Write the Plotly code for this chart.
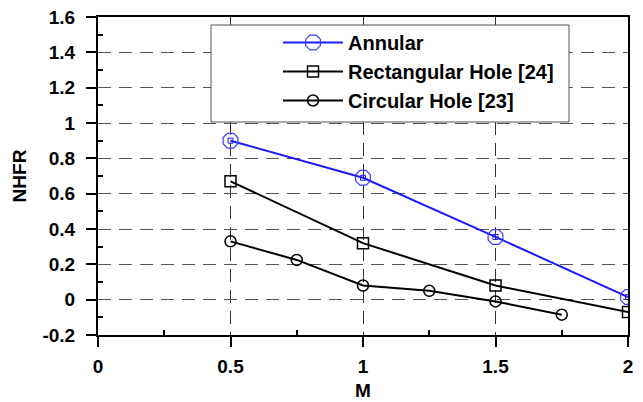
import plotly.graph_objects as go

# Data
m_annular = [0.5, 1.0, 1.5, 2.0]
nhfr_annular = [0.90, 0.69, 0.355, 0.015]
m_rect = [0.5, 1.0, 1.5, 2.0]
nhfr_rect = [0.67, 0.32, 0.08, -0.07]
m_circ = [0.5, 0.75, 1.0, 1.25, 1.5, 1.75]
nhfr_circ = [0.33, 0.225, 0.08, 0.05, -0.01, -0.085]

x_tickvals = [0, 0.5, 1, 1.5, 2]
x_ticktext = ["0", "0.5", "1", "1.5", "2"]
x_minorvals = [0.25, 0.75, 1.25, 1.75]
y_tickvals = [-0.2, 0, 0.2, 0.4, 0.6, 0.8, 1.0, 1.2, 1.4, 1.6]
y_ticktext = ["-0.2", "0", "0.2", "0.4", "0.6", "0.8", "1", "1.2", "1.4", "1.6"]
y_minorvals = [-0.1, 0.1, 0.3, 0.5, 0.7, 0.9, 1.1, 1.3, 1.5]

FONT = "Liberation Sans, Arial, sans-serif"
BLUE = "#1a1aff"
TF = dict(family=FONT, size=19, color="black", weight="bold")
LF = dict(family=FONT, size=20, color="black", weight="bold")

fig = go.Figure()
fig.add_trace(go.Scatter(
    x=m_annular, y=nhfr_annular, mode="lines+markers", name="Annular",
    line=dict(color=BLUE, width=2),
    marker=dict(symbol="octagon-open", size=16, color="#3a3aff", line=dict(width=1.2, color="#3a3aff")),
))
fig.add_trace(go.Scatter(
    x=m_annular, y=nhfr_annular, mode="markers", showlegend=False, hoverinfo="skip",
    marker=dict(symbol="square-open", size=5, color=BLUE, line=dict(width=1, color=BLUE)),
))
fig.add_trace(go.Scatter(
    x=m_rect, y=nhfr_rect, mode="lines+markers", name="Rectangular Hole [24]",
    line=dict(color="black", width=2),
    marker=dict(symbol="square-open", size=11, color="black", line=dict(width=1.5, color="black")),
))
fig.add_trace(go.Scatter(
    x=m_circ, y=nhfr_circ, mode="lines+markers", name="Circular Hole [23]",
    line=dict(color="black", width=2),
    marker=dict(symbol="circle-open", size=11, color="black", line=dict(width=1.5, color="black")),
))

# legend box
fig.add_shape(type="rect", xref="paper", yref="paper",
              x0=(211 - 98) / 530, x1=(569 - 98) / 530,
              y0=(335 - 122) / 318, y1=(335 - 25) / 318,
              line=dict(color="#555", width=1), fillcolor="white", layer="above")

grid_dash = "13px,8px"

fig.update_layout(
    width=643, height=402,
    margin=dict(l=98, r=15, t=17, b=67, autoexpand=False),
    paper_bgcolor="white", plot_bgcolor="white",
    font=dict(family=FONT, size=16, color="black"),
    showlegend=True,
    legend=dict(x=(278 - 98) / 530, y=(335 - 23) / 318, xanchor="left", yanchor="top",
                bgcolor="rgba(0,0,0,0)", borderwidth=0,
                font=LF, tracegroupgap=0, itemwidth=60),
    xaxis=dict(
        range=[0, 2], tickmode="array", tickvals=x_tickvals, ticktext=x_ticktext,
        tickfont=TF, automargin=False,
        ticks="outside", ticklen=10, tickwidth=1.5, tickcolor="black",
        ticklabelstandoff=3,
        minor=dict(tickmode="array", tickvals=x_minorvals, ticks="inside", ticklen=5,
                   tickwidth=1.5, tickcolor="black", showgrid=False),
        showline=True, linecolor="black", linewidth=2, mirror=True,
        showgrid=True, gridcolor="#333", gridwidth=1.2, griddash=grid_dash,
        zeroline=False,
        title=dict(text="M", font=TF, standoff=8),
    ),
    yaxis=dict(
        range=[-0.2, 1.6], tickmode="array", tickvals=y_tickvals, ticktext=y_ticktext,
        tickfont=TF, automargin=False,
        ticks="outside", ticklen=10, tickwidth=1.5, tickcolor="black",
        ticklabelstandoff=7,
        minor=dict(tickmode="array", tickvals=y_minorvals, ticks="inside", ticklen=5,
                   tickwidth=1.5, tickcolor="black", showgrid=False),
        showline=True, linecolor="black", linewidth=2, mirror=True,
        showgrid=True, gridcolor="#555", gridwidth=1.2, griddash=grid_dash,
        zeroline=False,
        title=dict(text="NHFR", font=TF, standoff=11),
    ),
)

fig.write_html("out.html")
